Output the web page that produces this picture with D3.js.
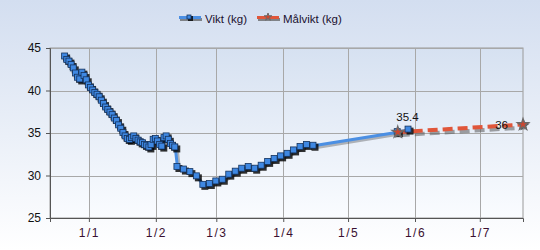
<!DOCTYPE html>
<html>
<head>
<meta charset="utf-8">
<script src="https://cdn.jsdelivr.net/npm/d3@7"></script>
<style>
  body { margin: 0; background: #fff; }
  svg { display: block; font-family: "Liberation Sans", Arial, sans-serif; }
</style>
</head>
<body>
<svg id="chart" width="540" height="250"></svg>
<script>
// days counted from 1 Jan
var viktDay = [-11, -10, -9, -8, -7, -6, -5, -4, -3, -2, -1, 0, 1, 2, 3, 4, 5, 6, 7, 8, 9, 10,
    11, 12, 13, 14, 15, 16, 17, 18, 19, 20, 21, 22, 23, 24, 25, 26, 27, 28, 29, 30, 31, 32,
    33, 34, 35, 36, 37, 38, 39, 40, 41, 44, 47, 50, 53, 56, 59, 62, 65, 68, 71, 74, 77, 80,
    83, 86, 89, 92, 95, 98, 101, 104, 143, 148];
var viktValue = [44.0, 43.6, 43.4, 43.0, 42.6, 42.0, 41.5, 41.3, 42.1, 41.7, 41.2, 40.6, 40.3,
    40.0, 39.7, 39.5, 39.2, 38.8, 38.4, 38.0, 37.7, 37.4, 37.1, 36.7, 36.4, 35.9, 35.5, 35.0,
    34.6, 34.3, 34.2, 34.4, 34.6, 34.3, 34.1, 33.9, 33.8, 33.6, 33.5, 33.3, 33.6, 34.2, 34.3,
    34.0, 33.6, 33.4, 34.4, 34.6, 34.2, 33.7, 33.5, 33.3, 31.0, 30.7, 30.4, 29.9, 28.9, 29.0,
    29.3, 29.5, 30.1, 30.45, 30.8, 31.0, 30.8, 31.15, 31.6, 31.95, 32.25, 32.55, 32.95, 33.35,
    33.6, 33.5, 35.1, 35.4];
var malDay = [143, 201];
var malValue = [35.1, 36.0];
var yTicks = [25, 30, 35, 40, 45];
var monthTicks = [0, 31, 59, 90, 120, 151, 181];
var legendLabels = ['Vikt (kg)', 'Målvikt (kg)'];

var W = 540, H = 250;
var margin = { top: 48, right: 17, bottom: 32, left: 50 };
var jan1 = new Date(2011, 0, 1);
function dayToDate(d) { return d3.timeDay.offset(jan1, d); }

var vikt = viktDay.map(function (d, i) { return { date: dayToDate(d), v: viktValue[i] }; });
var mal = malDay.map(function (d, i) { return { date: dayToDate(d), v: malValue[i] }; });

var svg = d3.select('#chart');
var defs = svg.append('defs');

var bg = defs.append('linearGradient').attr('id', 'bg')
    .attr('x1', 0).attr('y1', 0).attr('x2', 0).attr('y2', 1);
bg.append('stop').attr('offset', '0%').attr('stop-color', '#d3def0');
bg.append('stop').attr('offset', '100%').attr('stop-color', '#ffffff');

var pg = defs.append('linearGradient').attr('id', 'plotbg')
    .attr('x1', 0).attr('y1', 0).attr('x2', 0).attr('y2', 1);
pg.append('stop').attr('offset', '0%').attr('stop-color', '#d6e1f1');
pg.append('stop').attr('offset', '100%').attr('stop-color', '#fafcff');

svg.append('rect').attr('width', W).attr('height', H).attr('fill', 'url(#bg)');

var x = d3.scaleTime()
    .domain([dayToDate(-18), dayToDate(201)])
    .range([margin.left, W - margin.right]);
var y = d3.scaleLinear()
    .domain([25, 45])
    .range([H - margin.bottom, margin.top]);

svg.append('rect')
    .attr('x', margin.left).attr('y', margin.top)
    .attr('width', W - margin.left - margin.right)
    .attr('height', H - margin.top - margin.bottom)
    .attr('fill', 'url(#plotbg)')
    .attr('stroke', '#9a9a9a');

// grid
svg.append('g').selectAll('line').data(yTicks.slice(1)).join('line')
    .attr('x1', margin.left).attr('x2', W - margin.right)
    .attr('y1', function (d) { return Math.round(y(d)) + 0.5; })
    .attr('y2', function (d) { return Math.round(y(d)) + 0.5; })
    .attr('stroke', '#a8a8a8');
svg.append('g').selectAll('line').data(monthTicks).join('line')
    .attr('x1', function (d) { return Math.round(x(dayToDate(d))) + 0.5; })
    .attr('x2', function (d) { return Math.round(x(dayToDate(d))) + 0.5; })
    .attr('y1', margin.top).attr('y2', H - margin.bottom)
    .attr('stroke', '#a8a8a8');

// axes
var yAxis = svg.append('g')
    .attr('transform', 'translate(' + margin.left + ',0)')
    .call(d3.axisLeft(y).tickValues(yTicks).tickSize(4).tickPadding(5));
var xAxis = svg.append('g')
    .attr('transform', 'translate(0,' + (H - margin.bottom) + ')')
    .call(d3.axisBottom(x).tickValues(monthTicks.map(dayToDate))
        .tickSize(4).tickPadding(6).tickFormat(d3.timeFormat('%-d/%-m')));
[yAxis, xAxis].forEach(function (a) {
    a.select('.domain').attr('stroke', '#555');
    a.selectAll('.tick line').attr('stroke', '#555');
    a.selectAll('text').attr('font-size', 12).attr('font-family', '"Liberation Sans", Arial, sans-serif');
});
yAxis.selectAll('text').attr('fill', '#111');
xAxis.selectAll('text').attr('fill', '#3a1030').attr('letter-spacing', '1.5px');

var line = d3.line()
    .x(function (d) { return x(d.date); })
    .y(function (d) { return y(d.v); });

// Målvikt dashed line, shadow first
svg.append('path').datum(mal).attr('d', line)
    .attr('transform', 'translate(2,3)')
    .attr('fill', 'none').attr('stroke', 'rgba(90,90,90,0.55)')
    .attr('stroke-width', 4).attr('stroke-dasharray', '10,5');

// Vikt line
svg.append('path').datum(vikt).attr('d', line)
    .attr('transform', 'translate(2,2)')
    .attr('fill', 'none').attr('stroke', 'rgba(60,60,60,0.35)').attr('stroke-width', 3);
svg.append('path').datum(vikt).attr('d', line)
    .attr('fill', 'none').attr('stroke', '#4b8fe3').attr('stroke-width', 3)
    .attr('stroke-linejoin', 'round');

svg.append('path').datum(mal).attr('d', line)
    .attr('fill', 'none').attr('stroke', '#e0563a')
    .attr('stroke-width', 4).attr('stroke-dasharray', '10,5');

// Vikt markers
var mk = svg.append('g');
mk.selectAll('rect.sh').data(vikt).join('rect')
    .attr('class', 'sh')
    .attr('x', function (d) { return x(d.date) - 2; })
    .attr('y', function (d) { return y(d.v) - 2; })
    .attr('width', 7).attr('height', 7)
    .attr('fill', 'rgba(0,0,0,0.8)');
mk.selectAll('rect.m').data(vikt).join('rect')
    .attr('class', 'm')
    .attr('x', function (d) { return x(d.date) - 3.5; })
    .attr('y', function (d) { return y(d.v) - 3.5; })
    .attr('width', 6).attr('height', 6)
    .attr('fill', '#3f88e2').attr('stroke', '#14325c').attr('stroke-width', 0.8);

// Målvikt markers
var star = d3.symbol().type(d3.symbolStar).size(42);
svg.append('g').selectAll('path').data(mal).join('path')
    .attr('d', star)
    .attr('transform', function (d) { return 'translate(' + (x(d.date) + 1) + ',' + (y(d.v) + 1) + ')'; })
    .attr('fill', '#555');
svg.append('g').selectAll('path').data(mal).join('path')
    .attr('d', star)
    .attr('transform', function (d) { return 'translate(' + x(d.date) + ',' + y(d.v) + ')'; })
    .attr('fill', '#cc4630').attr('stroke', '#6a6a6a').attr('stroke-width', 1.2);

// value labels
var last = vikt[vikt.length - 1];
svg.append('text')
    .attr('x', x(last.date) - 1).attr('y', y(last.v) - 9)
    .attr('text-anchor', 'middle').attr('font-size', 11.5).attr('fill', '#111')
    .text(d3.format('.1f')(last.v));
var lastMal = mal[mal.length - 1];
svg.append('text')
    .attr('x', x(lastMal.date) - 15).attr('y', y(lastMal.v) + 4.5)
    .attr('text-anchor', 'end').attr('font-size', 11.5).attr('fill', '#111')
    .text(d3.format('d')(lastMal.v));

// legend
var lg = svg.append('g');
var items = [
    { x: 179, label: legendLabels[0], color: '#4b8fe3', type: 'rect' },
    { x: 257, label: legendLabels[1], color: '#e0563a', type: 'star' }
];
items.forEach(function (it) {
    lg.append('line')
        .attr('x1', it.x + 1).attr('x2', it.x + 23).attr('y1', 19.5).attr('y2', 19.5)
        .attr('stroke', 'rgba(90,90,90,0.7)').attr('stroke-width', 3);
    lg.append('line')
        .attr('x1', it.x).attr('x2', it.x + 22).attr('y1', 17.5).attr('y2', 17.5)
        .attr('stroke', it.color).attr('stroke-width', 3);
    if (it.type === 'rect') {
        lg.append('rect').attr('x', it.x + 9).attr('y', 16).attr('width', 5).attr('height', 5)
            .attr('fill', 'rgba(0,0,0,0.8)');
        lg.append('rect').attr('x', it.x + 8).attr('y', 15).attr('width', 4).attr('height', 4)
            .attr('fill', '#3f88e2').attr('stroke', '#14325c').attr('stroke-width', 0.8);
    } else {
        lg.append('path').attr('d', d3.symbol().type(d3.symbolStar).size(18))
            .attr('transform', 'translate(' + (it.x + 11) + ',17)')
            .attr('fill', '#d2452c').attr('stroke', '#6a6a6a').attr('stroke-width', 1);
    }
    lg.append('text')
        .attr('x', it.x + 26).attr('y', 22.5)
        .attr('font-size', 11.5).attr('fill', '#1a1030')
        .text(it.label);
});
</script>
</body>
</html>
